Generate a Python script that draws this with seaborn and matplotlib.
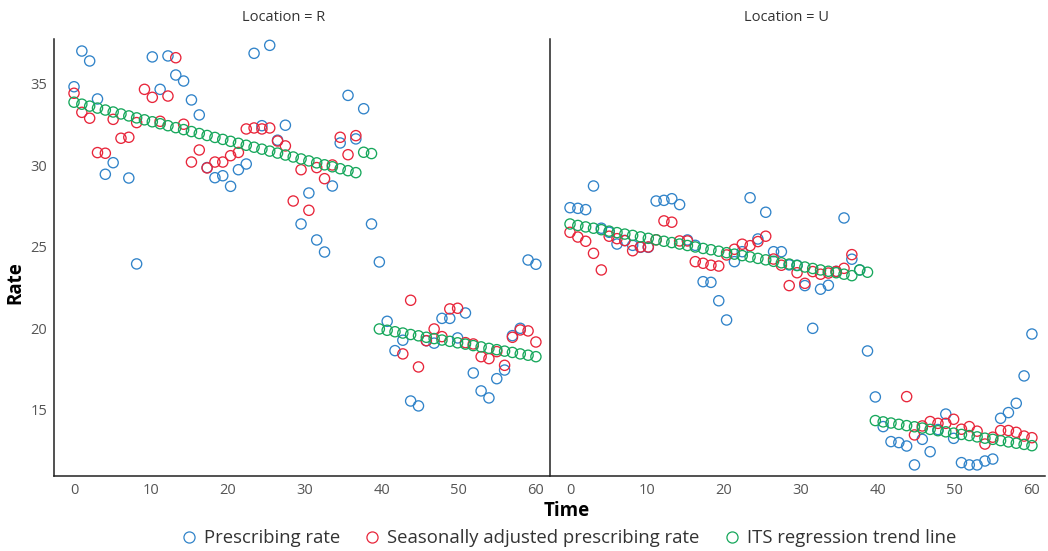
import numpy as np
import pandas as pd
import matplotlib
matplotlib.use("Agg")
import matplotlib.pyplot as plt
import seaborn as sns
from matplotlib.lines import Line2D

nan = np.nan
locations = ["R", "U"]
series_names = ["Prescribing rate", "Seasonally adjusted prescribing rate", "ITS regression trend line"]
series_colors = ["#3083C9", "#E8253A", "#16A75B"]
# 60 time points spread over the 0-60 axis
time = np.linspace(0, 60, 60)

r_presc = [34.83, 37.02, 36.41, 34.08, 29.46, 30.17, nan, 29.23, 23.96, nan,
           36.66, 34.67, 36.72, 35.55, 35.18, 34.02, 33.10, 29.87, 29.25, 29.37,
           28.72, 29.74, 30.09, 36.88, 32.44, 37.37, 31.55, 32.47, nan, 26.41,
           28.31, 25.43, 24.69, 28.74, 31.38, 34.30, 31.63, 33.48, 26.41, 24.08,
           20.44, 18.64, 19.28, 15.55, 15.25, 19.25, 19.10, 20.62, 20.62, 19.42,
           20.95, 17.27, 16.17, 15.74, 16.92, 17.45, 19.56, 20.01, 24.20, 23.94]
r_adj = [34.43, 33.26, 32.90, 30.79, 30.75, 32.83, 31.67, 31.73, 32.63, 34.67,
         34.18, 32.71, 34.26, 36.61, 32.53, 30.21, 30.95, 29.85, 30.21, 30.21,
         30.60, 30.80, 32.24, 32.30, 32.24, 32.30, 31.50, 31.20, 27.82, 29.74,
         27.25, 29.87, 29.19, 30.03, 31.73, 30.66, 31.83, nan, nan, nan,
         nan, nan, 18.44, 21.73, 17.64, 19.25, 19.97, 19.50, 21.20, 21.24,
         19.13, 19.05, 18.27, 18.15, 18.58, 17.74, 19.46, 19.91, 19.85, 19.17]
r_trend = [33.88, 33.76, 33.64, 33.52, 33.40, 33.28, 33.16, 33.04, 32.92, 32.80,
           32.68, 32.56, 32.44, 32.32, 32.20, 32.08, 31.96, 31.84, 31.72, 31.60,
           31.48, 31.36, 31.24, 31.12, 31.00, 30.88, 30.76, 30.64, 30.52, 30.40,
           30.28, 30.16, 30.04, 29.92, 29.80, 29.68, 29.56, 30.81, 30.73, 19.97,
           19.89, 19.80, 19.72, 19.63, 19.55, 19.46, 19.38, 19.29, 19.21, 19.12,
           19.04, 18.95, 18.87, 18.78, 18.70, 18.61, 18.53, 18.44, 18.36, 18.27]

u_presc = [27.41, 27.37, 27.29, 28.74, 26.15, 25.90, 25.18, 25.40, 25.10, 24.98,
           24.98, 27.82, 27.86, 27.96, 27.60, 25.43, 25.10, 22.87, 22.83, 21.70,
           20.52, 24.10, 24.71, 28.02, 25.49, 27.13, 24.71, 24.71, 23.90, 23.88,
           22.63, 20.01, 22.41, 22.65, 23.50, 26.78, 24.25, 23.59, 18.62, 15.80,
           13.98, 13.06, 13.00, 12.79, 11.63, 13.20, 12.44, 13.80, 14.75, 13.26,
           11.77, 11.63, 11.63, 11.87, 11.99, 14.49, 14.84, 15.41, 17.09, 19.66]
u_adj = [25.90, 25.61, 25.35, 24.61, 23.59, 25.66, 25.51, 25.39, 24.77, 25.00,
         25.00, 25.44, 26.60, 26.52, 25.37, 25.37, 24.10, 24.00, 23.88, 23.83,
         24.51, 24.86, 25.17, 25.08, 25.33, 25.66, 24.26, 23.88, 22.63, 23.42,
         22.77, 23.49, 23.33, 23.40, 23.50, 23.69, 24.53, nan, nan, nan,
         nan, nan, nan, 15.82, 13.47, 14.02, 14.29, 14.18, 14.18, 14.43,
         13.82, 13.98, 13.70, 12.91, 13.33, 13.74, 13.74, 13.63, 13.40, 13.30]
u_trend = [26.41, 26.32, 26.23, 26.15, 26.06, 25.97, 25.88, 25.79, 25.71, 25.62,
           25.53, 25.44, 25.35, 25.27, 25.18, 25.09, 25.00, 24.91, 24.83, 24.74,
           24.65, 24.56, 24.47, 24.39, 24.30, 24.21, 24.12, 24.03, 23.95, 23.86,
           23.77, 23.68, 23.59, 23.51, 23.42, 23.33, 23.24, 23.59, 23.45, 14.35,
           14.27, 14.20, 14.12, 14.04, 13.97, 13.89, 13.81, 13.73, 13.66, 13.58,
           13.50, 13.43, 13.35, 13.27, 13.20, 13.12, 13.04, 12.96, 12.89, 12.81]

x_ticks = [0, 10, 20, 30, 40, 50, 60]
y_ticks = [15, 20, 25, 30, 35]

rows = []
for loc, vals in (("R", (r_presc, r_adj, r_trend)), ("U", (u_presc, u_adj, u_trend))):
    for name, v in zip(series_names, vals):
        for t, y in zip(time, v):
            rows.append((loc, name, t, y))
df = pd.DataFrame(rows, columns=["Location", "Series", "Time", "Rate"])

sns.set_theme(style="white")
plt.rcParams["font.family"] = ["Open Sans", "DejaVu Sans"]

palette = dict(zip(series_names, series_colors))
g = sns.FacetGrid(df, col="Location", col_order=locations, hue="Series",
                  hue_order=series_names, palette=palette, height=5, aspect=1,
                  sharex=True, sharey=True, despine=True)


def open_scatter(x, y, color=None, label=None, **kw):
    plt.gca().scatter(x, y, s=54, facecolors="none", edgecolors=color, linewidths=0.95)


g.map(open_scatter, "Time", "Rate")

fig = g.figure
fig.set_size_inches(10.48, 5.51)
W, H = 1048, 551
top_px, bot_px = 39.3, 476
for ax, left_px in zip(g.axes.flat, (54, 550)):
    ax.set_position([left_px / W, 1 - bot_px / H, 495 / W, (bot_px - top_px) / H])
    ax.set_xlim(-2.6, 61.7)
    ax.set_ylim(10.95, 37.74)
    ax.set_xticks(x_ticks)
    ax.set_yticks(y_ticks)
    ax.tick_params(length=0, labelsize=10.5, colors="#555555", pad=5)
    for s in ("left", "bottom"):
        ax.spines[s].set_color("#222222")
        ax.spines[s].set_linewidth(1.1)
    ax.set_xlabel("")
    ax.set_ylabel("")

g.set_titles("{col_var} = {col_name}", size=10.5, pad=13, color="#333333")
for ax, left_px, center_px in zip(g.axes.flat, (54, 550), (284, 786)):
    ax.title.set_x((center_px - left_px) / 495)

fig.text(567 / W, 1 - 511 / H, "Time", ha="center", va="center",
         fontsize=13.5, fontweight="bold", color="black")
fig.text(15 / W, 1 - 283 / H, "Rate", ha="center", va="center", rotation=90,
         fontsize=13.5, fontweight="bold", color="black")

handles = [Line2D([], [], marker="o", linestyle="none", markerfacecolor="none",
                  markeredgecolor=c, markersize=8, markeredgewidth=0.9)
           for c in series_colors]
fig.legend(handles, series_names, loc="center", bbox_to_anchor=(568 / W, 1 - 538 / H),
           ncol=3, frameon=False, fontsize=13.3, handlelength=1.0, handletextpad=0.31,
           columnspacing=1.23, labelcolor="#333333")

fig.savefig("out.png", dpi=100)
